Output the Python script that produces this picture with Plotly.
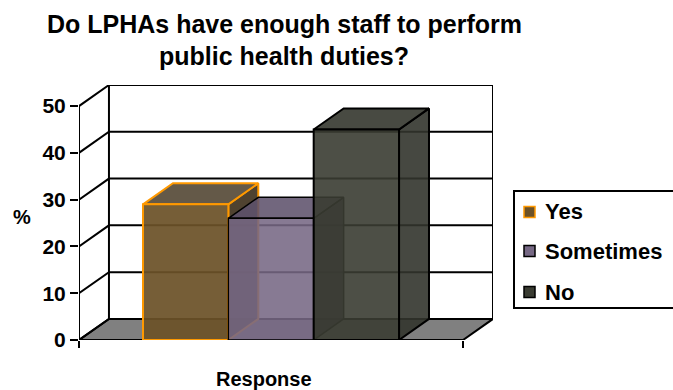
import plotly.graph_objects as go

# ---------------- data ----------------
categories = ["Yes", "Sometimes", "No"]
values = [29, 26, 45]
y_ticks = [0, 10, 20, 30, 40, 50]
title_lines = ["Do LPHAs have enough staff to perform", "public health duties?"]
x_title = "Response"
y_title = "%"

# ---------------- style ----------------
W, H = 673, 390
FONT = "Liberation Sans, Arial, sans-serif"

front_fill = ["rgba(108,82,40,0.93)", "rgba(118,104,132,0.88)", "rgba(58,60,50,0.90)"]
top_fill = ["rgba(88,76,58,0.93)", "rgba(94,82,108,0.88)", "rgba(52,54,45,0.90)"]
side_fill = ["rgba(66,52,32,0.93)", "rgba(60,52,72,0.88)", "rgba(50,52,44,0.90)"]
edge_col = ["#FF9900", "#000000", "#000000"]
legend_fill = ["#6c5228", "#766884", "#3a3c32"]

DX = 0.078   # depth offset, category units
DY = 4.5     # depth offset, value units
GAP = 1.5    # gap width relative to bar width


def px(x):
    return x / W


def py(y):
    return 1 - y / H


fig = go.Figure()

# floor
fig.add_trace(go.Scatter(
    x=[0, 1, 1 + DX, DX, 0], y=[0, 0, DY, DY, 0], mode="lines",
    fill="toself", fillcolor="#808080", line=dict(color="black", width=2),
    hoverinfo="skip", showlegend=False))

# back wall + side gridlines
for v in y_ticks:
    fig.add_trace(go.Scatter(
        x=[0, DX, 1 + DX], y=[v, v + DY, v + DY], mode="lines",
        line=dict(color="black", width=2), hoverinfo="skip", showlegend=False))
for xv in [DX, 1 + DX]:
    fig.add_trace(go.Scatter(
        x=[xv, xv], y=[DY, y_ticks[-1] + DY], mode="lines",
        line=dict(color="black", width=2), hoverinfo="skip", showlegend=False))

# bars
n = len(values)
bw = 1 / (n + GAP)
start = GAP * bw / 2
for i, (cat, v) in enumerate(zip(categories, values)):
    x0 = start + i * bw
    x1 = x0 + bw
    lw = 2 if i != 1 else 1.5
    faces = [
        ([x1, x1 + DX, x1 + DX, x1, x1], [0, DY, v + DY, v, 0], side_fill[i]),
        ([x0, x1, x1 + DX, x0 + DX, x0], [v, v, v + DY, v + DY, v], top_fill[i]),
        ([x0, x1, x1, x0, x0], [0, 0, v, v, 0], front_fill[i]),
    ]
    for fx, fy, fc in faces:
        fig.add_trace(go.Scatter(
            x=fx, y=fy, mode="lines", fill="toself", fillcolor=fc,
            line=dict(color=edge_col[i], width=lw),
            hoverinfo="skip", showlegend=False))

# front value axis line
fig.add_trace(go.Scatter(
    x=[0, 0], y=[0, y_ticks[-1]], mode="lines",
    line=dict(color="black", width=2), hoverinfo="skip", showlegend=False))

# legend (drawn in page pixels)
LEG_X0, LEG_Y0, LEG_Y1 = 514, 191, 308
LEG_ROWS = [212, 251, 292]
shapes = [dict(type="rect", xref="paper", yref="paper",
               x0=px(LEG_X0), x1=px(W + 10), y0=py(LEG_Y1), y1=py(LEG_Y0),
               line=dict(color="black", width=2), fillcolor="white", layer="above")]
annotations = []
for i, cat in enumerate(categories):
    yc = LEG_ROWS[i]
    shapes.append(dict(type="rect", xref="paper", yref="paper",
                       x0=px(524), x1=px(535), y0=py(yc + 5.5), y1=py(yc - 5.5),
                       line=dict(color=edge_col[i], width=1.5),
                       fillcolor=legend_fill[i], layer="above"))
    annotations.append(dict(text=cat, x=px(543), y=py(yc), xref="paper", yref="paper",
                            showarrow=False, xanchor="left", yanchor="middle",
                            font=dict(size=22, weight="bold", family=FONT)))

annotations += [
    dict(text=title_lines[0], x=px(284), y=py(24), xref="paper", yref="paper",
         showarrow=False, xanchor="center", yanchor="middle",
         font=dict(size=25, weight="bold", family=FONT)),
    dict(text=title_lines[1], x=px(284), y=py(56), xref="paper", yref="paper",
         showarrow=False, xanchor="center", yanchor="middle",
         font=dict(size=25, weight="bold", family=FONT)),
    dict(text=y_title, x=px(22), y=py(217), xref="paper", yref="paper",
         showarrow=False, xanchor="center", yanchor="middle",
         font=dict(size=20, weight="bold", family=FONT)),
    dict(text=x_title, x=px(264), y=py(379), xref="paper", yref="paper",
         showarrow=False, xanchor="center", yanchor="middle",
         font=dict(size=20, weight="bold", family=FONT)),
]

fig.update_layout(
    width=W, height=H,
    margin=dict(l=0, r=0, t=0, b=0, autoexpand=False),
    paper_bgcolor="white", plot_bgcolor="rgba(0,0,0,0)",
    font=dict(family=FONT, color="black"),
    showlegend=False,
    xaxis=dict(
        type="linear", domain=[px(79), px(493)], range=[0, 1 + DX],
        showgrid=False, zeroline=False, showline=False, automargin=False,
        tickvals=[0, 1], ticks="outside", ticklen=7, tickwidth=2,
        tickcolor="black", showticklabels=False, fixedrange=True),
    yaxis=dict(
        domain=[py(340), py(85)], range=[0, y_ticks[-1] + DY],
        showgrid=False, zeroline=False, showline=False, automargin=False,
        tickvals=y_ticks, ticktext=[str(t) for t in y_ticks],
        ticks="outside", ticklen=8, tickwidth=2, tickcolor="black",
        tickfont=dict(size=21, weight="bold", family=FONT), fixedrange=True),
    shapes=shapes,
    annotations=annotations,
)

fig.write_html(
    "out.html",
    config={"displayModeBar": False},
    post_script="document.body.style.margin='0';document.body.style.overflow='hidden';",
)
